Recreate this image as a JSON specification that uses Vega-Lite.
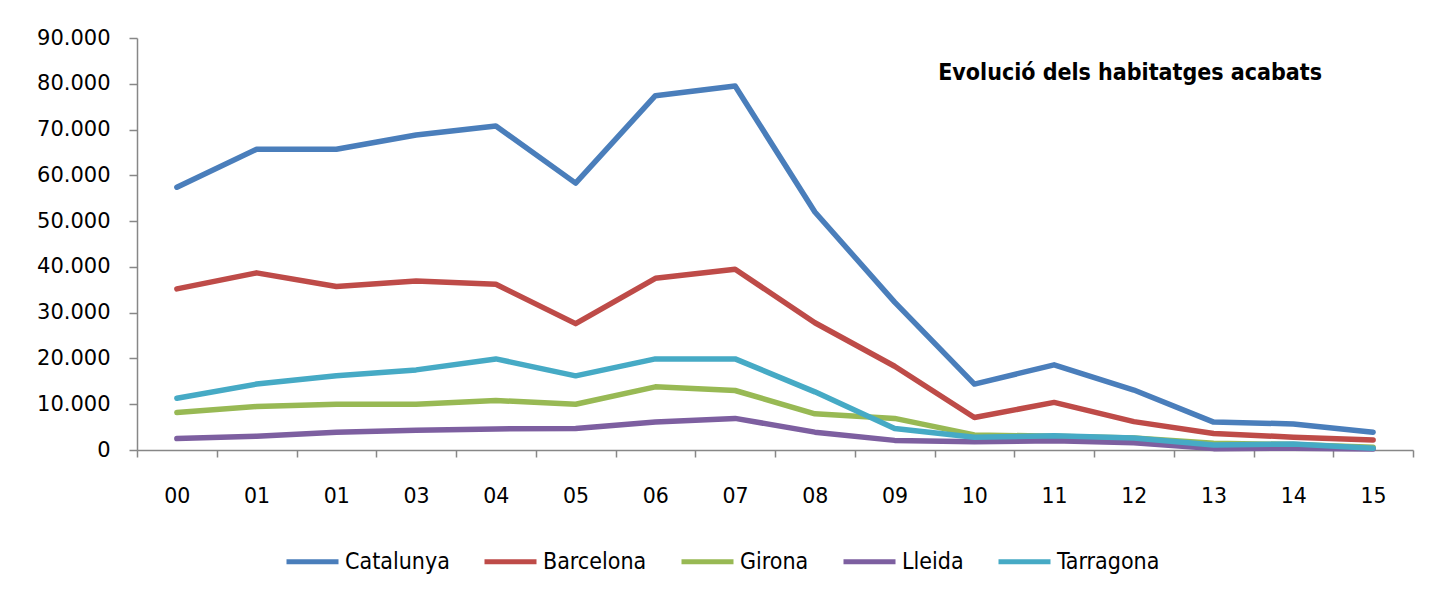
{
  "$schema": "https://vega.github.io/schema/vega-lite/v6.json",
  "width": 1276,
  "height": 412,
  "autosize": {"type": "none"},
  "padding": {"left": 137, "top": 38, "right": 16, "bottom": 146},
  "background": "white",
  "title": {
    "text": "Evolució dels habitatges acabats",
    "anchor": "end",
    "frame": "group",
    "orient": "top",
    "font": "DejaVu Sans Condensed",
    "fontWeight": "bold",
    "fontSize": 23,
    "color": "black",
    "baseline": "alphabetic",
    "offset": 0,
    "dx": -91,
    "dy": 76
  },
  "datasets": {
    "series": [
      {"region": "Catalunya", "year": "00", "value": 57400},
      {"region": "Catalunya", "year": "01", "value": 65700},
      {"region": "Catalunya", "year": "02", "value": 65700},
      {"region": "Catalunya", "year": "03", "value": 68800},
      {"region": "Catalunya", "year": "04", "value": 70800},
      {"region": "Catalunya", "year": "05", "value": 58300},
      {"region": "Catalunya", "year": "06", "value": 77400},
      {"region": "Catalunya", "year": "07", "value": 79500},
      {"region": "Catalunya", "year": "08", "value": 52000},
      {"region": "Catalunya", "year": "09", "value": 32300},
      {"region": "Catalunya", "year": "10", "value": 14400},
      {"region": "Catalunya", "year": "11", "value": 18600},
      {"region": "Catalunya", "year": "12", "value": 13100},
      {"region": "Catalunya", "year": "13", "value": 6100},
      {"region": "Catalunya", "year": "14", "value": 5700},
      {"region": "Catalunya", "year": "15", "value": 3900},
      {"region": "Barcelona", "year": "00", "value": 35200},
      {"region": "Barcelona", "year": "01", "value": 38700},
      {"region": "Barcelona", "year": "02", "value": 35700},
      {"region": "Barcelona", "year": "03", "value": 36900},
      {"region": "Barcelona", "year": "04", "value": 36200},
      {"region": "Barcelona", "year": "05", "value": 27600},
      {"region": "Barcelona", "year": "06", "value": 37500},
      {"region": "Barcelona", "year": "07", "value": 39500},
      {"region": "Barcelona", "year": "08", "value": 27800},
      {"region": "Barcelona", "year": "09", "value": 18300},
      {"region": "Barcelona", "year": "10", "value": 7100},
      {"region": "Barcelona", "year": "11", "value": 10400},
      {"region": "Barcelona", "year": "12", "value": 6200},
      {"region": "Barcelona", "year": "13", "value": 3600},
      {"region": "Barcelona", "year": "14", "value": 2800},
      {"region": "Barcelona", "year": "15", "value": 2200},
      {"region": "Girona", "year": "00", "value": 8200},
      {"region": "Girona", "year": "01", "value": 9500},
      {"region": "Girona", "year": "02", "value": 10000},
      {"region": "Girona", "year": "03", "value": 10000},
      {"region": "Girona", "year": "04", "value": 10800},
      {"region": "Girona", "year": "05", "value": 10000},
      {"region": "Girona", "year": "06", "value": 13800},
      {"region": "Girona", "year": "07", "value": 13000},
      {"region": "Girona", "year": "08", "value": 7900},
      {"region": "Girona", "year": "09", "value": 6900},
      {"region": "Girona", "year": "10", "value": 3300},
      {"region": "Girona", "year": "11", "value": 3000},
      {"region": "Girona", "year": "12", "value": 2600},
      {"region": "Girona", "year": "13", "value": 1500},
      {"region": "Girona", "year": "14", "value": 1200},
      {"region": "Girona", "year": "15", "value": 600},
      {"region": "Lleida", "year": "00", "value": 2500},
      {"region": "Lleida", "year": "01", "value": 3000},
      {"region": "Lleida", "year": "02", "value": 3900},
      {"region": "Lleida", "year": "03", "value": 4300},
      {"region": "Lleida", "year": "04", "value": 4600},
      {"region": "Lleida", "year": "05", "value": 4700},
      {"region": "Lleida", "year": "06", "value": 6100},
      {"region": "Lleida", "year": "07", "value": 6900},
      {"region": "Lleida", "year": "08", "value": 3900},
      {"region": "Lleida", "year": "09", "value": 2100},
      {"region": "Lleida", "year": "10", "value": 1800},
      {"region": "Lleida", "year": "11", "value": 2000},
      {"region": "Lleida", "year": "12", "value": 1600},
      {"region": "Lleida", "year": "13", "value": 300},
      {"region": "Lleida", "year": "14", "value": 400},
      {"region": "Lleida", "year": "15", "value": 200},
      {"region": "Tarragona", "year": "00", "value": 11300},
      {"region": "Tarragona", "year": "01", "value": 14400},
      {"region": "Tarragona", "year": "02", "value": 16200},
      {"region": "Tarragona", "year": "03", "value": 17500},
      {"region": "Tarragona", "year": "04", "value": 19900},
      {"region": "Tarragona", "year": "05", "value": 16200},
      {"region": "Tarragona", "year": "06", "value": 19900},
      {"region": "Tarragona", "year": "07", "value": 19900},
      {"region": "Tarragona", "year": "08", "value": 12700},
      {"region": "Tarragona", "year": "09", "value": 4700},
      {"region": "Tarragona", "year": "10", "value": 2800},
      {"region": "Tarragona", "year": "11", "value": 3100},
      {"region": "Tarragona", "year": "12", "value": 2600},
      {"region": "Tarragona", "year": "13", "value": 1100},
      {"region": "Tarragona", "year": "14", "value": 1300},
      {"region": "Tarragona", "year": "15", "value": 400}
    ]
  },
  "data": {"name": "series"},
  "mark": {"type": "line", "strokeWidth": 5.5, "strokeCap": "round", "strokeJoin": "round"},
  "encoding": {
    "x": {
      "field": "year",
      "type": "ordinal",
      "bandPosition": 0.5,
      "scale": {"type": "band", "paddingInner": 0, "paddingOuter": 0},
      "axis": {
        "title": null,
        "labelExpr": "datum.value == '02' ? '01' : datum.value",
        "labelAngle": 0,
        "tickBand": "extent",
        "labelFont": "DejaVu Sans",
        "labelFontSize": 20.5,
        "labelColor": "black",
        "labelPadding": 29,
        "tickSize": 7,
        "tickColor": "#878787",
        "tickWidth": 1.5,
        "domainColor": "#878787",
        "domainWidth": 1.5,
        "grid": false
      }
    },
    "y": {
      "field": "value",
      "type": "quantitative",
      "scale": {"domain": [0, 90000], "nice": false},
      "axis": {
        "title": null,
        "values": [0, 10000, 20000, 30000, 40000, 50000, 60000, 70000, 80000, 90000],
        "labelExpr": "datum.value == 0 ? '0' : format(datum.value / 1000, 'd') + '.000'",
        "labelFont": "DejaVu Sans",
        "labelFontSize": 21,
        "labelColor": "black",
        "labelPadding": 19,
        "tickSize": 8,
        "tickColor": "#878787",
        "tickWidth": 1.5,
        "domainColor": "#878787",
        "domainWidth": 1.5,
        "grid": false
      }
    },
    "color": {
      "field": "region",
      "type": "nominal",
      "scale": {
        "domain": ["Catalunya", "Barcelona", "Girona", "Lleida", "Tarragona"],
        "range": ["#4a7ebb", "#be4b48", "#98b954", "#7d5fa0", "#46aac5"]
      },
      "legend": {
        "orient": "none",
        "legendX": 147,
        "legendY": 495,
        "direction": "horizontal",
        "title": null,
        "symbolType": "stroke",
        "symbolSize": 2704,
        "symbolStrokeWidth": 5,
        "labelFont": "DejaVu Sans Condensed",
        "labelFontSize": 23,
        "labelColor": "black",
        "labelOffset": 4,
        "columnPadding": 24,
        "labelLimit": 300
      }
    }
  },
  "config": {"view": {"stroke": null}}
}
